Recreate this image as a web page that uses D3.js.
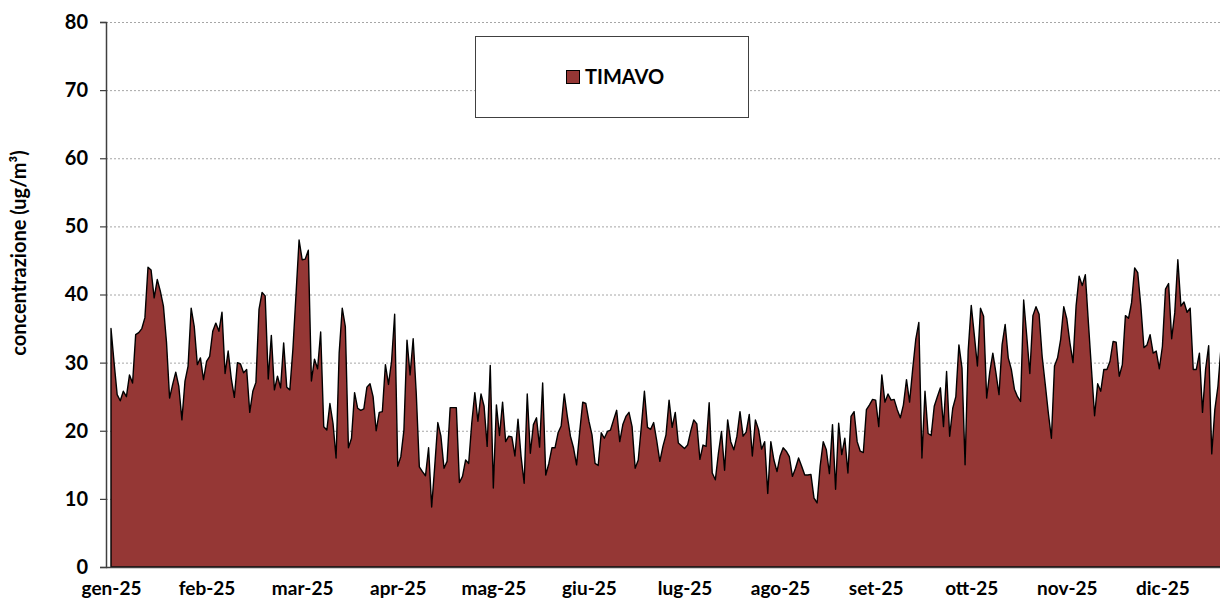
<!DOCTYPE html>
<html>
<head>
<meta charset="utf-8">
<script src="https://cdn.jsdelivr.net/npm/d3@7"></script>
<style>
    body { margin: 0; background: #fff; }
    text { font-family: Lato, "Open Sans", sans-serif; font-weight: bold; fill: #000; }
</style>
</head>
<body>
<div id="chart"></div>
<script>
// daily values, TIMAVO station, from 1 Jan 2025 (right end is cut by the picture)
const values = [
    35.0, 30.0, 25.3, 24.4, 25.8, 25.0, 28.2, 27.0, 34.1, 34.4, 35.0, 36.6, 44.0, 43.6, 39.5, 42.2, 40.5, 38.3, 33.0, 24.8,
    26.8, 28.6, 26.5, 21.6, 27.3, 29.5, 38.0, 35.3, 29.7, 30.7, 27.5, 30.2, 30.9, 34.6,
    35.8, 34.6, 37.4, 28.4, 31.7, 27.7, 24.9, 30.0, 29.8, 28.5, 29.0, 22.7, 25.8, 27.1, 37.8, 40.3, 39.8, 27.6, 34.0, 26.0,
    28.0, 26.3, 32.9, 26.4, 26.0, 32.0, 40.0, 48.0, 45.1, 45.2, 46.5, 27.3, 30.5, 29.1, 34.5,
    20.6, 20.1, 24.0, 21.1, 16.0, 31.4, 38.0, 35.3, 17.5, 18.9, 25.6, 23.3, 23.0, 23.2, 26.4, 26.9, 25.0, 20.0, 22.7, 22.8,
    29.7, 26.8, 30.2, 37.1, 14.8, 16.2, 20.1, 33.3, 28.2, 33.5, 25.5, 14.7, 14.0, 13.4, 17.5, 8.8,
    14.8, 21.2, 19.2, 14.5, 15.5, 23.4, 23.4, 23.4, 12.4, 13.3, 15.7, 15.2, 21.1, 25.6, 21.4, 25.4, 23.6, 17.7, 29.6, 11.6,
    23.8, 19.3, 24.2, 18.4, 19.2, 19.1, 16.3, 21.7, 16.2, 12.3, 25.4, 16.7, 20.9, 21.9, 17.6, 27.0, 13.5,
    15.2, 17.5, 17.5, 19.7, 20.7, 25.4, 22.1, 19.2, 17.5, 15.0, 19.8, 24.2, 24.0, 21.4, 19.4, 15.2, 14.9, 19.7, 18.9, 19.9,
    20.1, 21.6, 23.0, 18.4, 20.9, 22.1, 22.7, 20.6, 14.5, 15.7, 20.6, 25.8, 20.5, 20.2, 21.2,
    18.5, 15.5, 17.7, 19.4, 24.5, 20.5, 22.7, 18.2, 17.8, 17.4, 17.9, 19.9, 21.6, 21.0, 15.8, 17.9, 17.7, 24.1, 13.8, 12.8,
    16.7, 19.9, 14.2, 21.6, 18.4, 17.2, 19.2, 22.8, 19.2, 19.8, 22.4, 16.3, 21.6, 20.2, 17.3, 18.4,
    10.8, 18.4, 15.7, 14.0, 16.3, 17.5, 17.0, 16.2, 13.3, 14.5, 16.0, 14.8, 13.5, 13.5, 13.6, 10.1, 9.4, 14.8, 18.4, 17.2,
    13.7, 20.9, 11.4, 21.1, 16.5, 18.9, 13.8, 22.1, 22.8, 18.4, 17.0, 16.8, 23.1, 23.8, 24.6, 24.5,
    20.6, 28.2, 24.2, 25.4, 24.5, 24.6, 23.1, 21.9, 23.8, 27.5, 24.2, 29.0, 33.4, 35.9, 16.0, 25.8, 19.6, 19.3, 23.6, 25.0,
    26.3, 20.6, 28.7, 19.2, 23.3, 25.0, 32.6, 29.2, 15.0, 31.7, 38.4, 34.0, 29.5, 38.0, 36.8,
    24.8, 28.6, 31.4, 28.5, 25.3, 32.6, 35.6, 30.7, 29.0, 26.1, 25.0, 24.3, 39.2, 33.9, 28.4, 36.9, 38.2, 37.1, 30.9, 26.8,
    22.6, 18.9, 29.5, 30.7, 33.4, 38.2, 36.4, 32.9, 30.0, 38.3, 42.7, 41.3, 42.9, 35.8, 29.0, 22.2,
    26.9, 25.8, 29.0, 29.0, 30.2, 33.1, 33.0, 28.0, 29.7, 36.9, 36.5, 38.8, 43.9, 43.2, 38.3, 32.2, 32.6, 34.1, 31.4, 31.7,
    29.1, 32.4, 40.8, 41.6, 33.5, 37.3, 45.1, 38.3, 38.9, 37.4, 38.0, 29.0, 29.0, 31.4, 22.7, 29.0, 32.5, 16.6, 23.1, 26.5,
    32.2
];
const monthLabels = ['gen-25', 'feb-25', 'mar-25', 'apr-25', 'mag-25', 'giu-25', 'lug-25', 'ago-25', 'set-25', 'ott-25', 'nov-25', 'dic-25'];
const labelEvery = 31; // category axis: one label every 31 points
const yTicks = [0, 10, 20, 30, 40, 50, 60, 70, 80];
const seriesName = 'TIMAVO';

const width = 1220, height = 599;
const fillColor = '#953735';

const svg = d3.select('#chart').append('svg')
    .attr('width', width)
    .attr('height', height);

const x = d3.scaleLinear().domain([0, values.length - 1]).range([111, 1221]);
const y = d3.scaleLinear().domain([0, 80]).range([567, 22]);

// gridlines
svg.append('g')
    .selectAll('line')
    .data(yTicks.filter(d => d > 0))
    .join('line')
    .attr('x1', 106).attr('x2', width)
    .attr('y1', d => y(d) + 0.5).attr('y2', d => y(d) + 0.5)
    .attr('stroke', '#a6a6a6')
    .attr('stroke-width', 1)
    .attr('stroke-dasharray', '2,2');

// area + outline
const area = d3.area()
    .x((d, i) => x(i))
    .y0(y(0))
    .y1(d => y(d));

svg.append('path')
    .datum(values)
    .attr('d', area)
    .attr('fill', fillColor)
    .attr('stroke', '#000')
    .attr('stroke-width', 1.4)
    .attr('stroke-linejoin', 'round');

// y axis
const yAxis = svg.append('g')
    .attr('transform', 'translate(106,0)')
    .call(d3.axisLeft(y).tickValues(yTicks).tickSize(6).tickPadding(12));
yAxis.select('.domain').attr('stroke', '#404040').attr('stroke-width', 1.5);
yAxis.selectAll('.tick line').attr('stroke', '#404040').attr('stroke-width', 1.2);
yAxis.selectAll('.tick text').style('font-size', '20px').attr('fill', '#000');

// x axis
const xAxis = svg.append('g')
    .attr('transform', 'translate(0,567)')
    .call(d3.axisBottom(x)
        .tickValues(monthLabels.map((m, i) => i * labelEvery))
        .tickFormat((d, i) => monthLabels[i])
        .tickSize(0)
        .tickPadding(15));
xAxis.select('.domain').attr('d', 'M106,0.5H' + width).attr('stroke', '#404040').attr('stroke-width', 1.5);
xAxis.selectAll('.tick text').style('font-size', '19px').attr('fill', '#000');

// y title
svg.append('text')
    .attr('transform', 'translate(26,253) rotate(-90)')
    .attr('text-anchor', 'middle')
    .style('font-size', '20px')
    .text('concentrazione (ug/m³)');

// legend
const legend = svg.append('g');
legend.append('rect')
    .attr('x', 475.5).attr('y', 36.5)
    .attr('width', 273).attr('height', 81)
    .attr('fill', '#fff')
    .attr('stroke', '#404040')
    .attr('stroke-width', 1);
legend.append('rect')
    .attr('x', 566.5).attr('y', 70.5)
    .attr('width', 13).attr('height', 13)
    .attr('fill', fillColor)
    .attr('stroke', '#000');
legend.append('text')
    .attr('x', 585).attr('y', 84)
    .style('font-size', '20px')
    .text(seriesName);
</script>
</body>
</html>
